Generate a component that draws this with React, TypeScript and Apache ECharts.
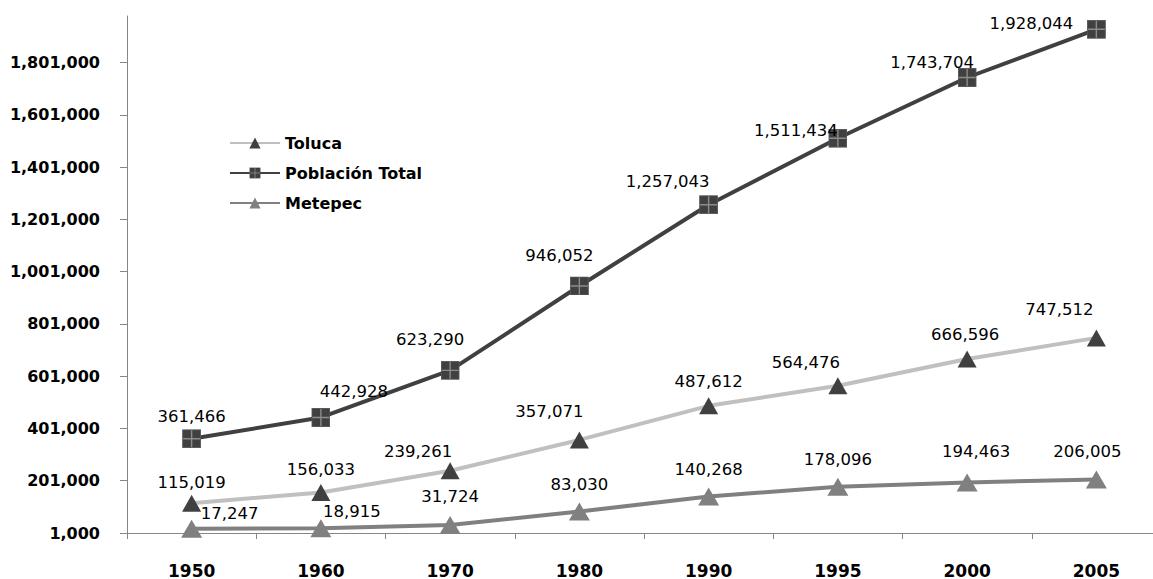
import React, { useEffect, useRef } from "react";
import * as echarts from "echarts";

const years = ["1950", "1960", "1970", "1980", "1990", "1995", "2000", "2005"];
const toluca = [115019, 156033, 239261, 357071, 487612, 564476, 666596, 747512];
const total = [361466, 442928, 623290, 946052, 1257043, 1511434, 1743704, 1928044];
const metepec = [17247, 18915, 31724, 83030, 140268, 178096, 194463, 206005];

// label placement offsets (style only)
const tolucaOffsets = [[0, -21], [0, -23], [-32, -19], [-30, -28], [0, -24], [-32, -23], [-2, -25], [-37, -28]];
const totalOffsets = [[0, -22], [33, -26], [-20, -31], [-20, -30], [-41, -23], [-42, -8], [-35, -15], [-65, -6]];
const metepecOffsets = [[38, -15], [31, -17], [0, -28], [0, -27], [0, -27], [0, -27], [9, -31], [-9, -28]];

const fmt = (v: number) => v.toLocaleString("en-US");

const squareSvg =
  '<svg xmlns="http://www.w3.org/2000/svg" width="19" height="19" viewBox="0 0 19 19">' +
  '<rect x="0.5" y="0.5" width="18" height="18" fill="#404040" stroke="#595959" stroke-width="1"/>' +
  '<line x1="9.5" y1="1" x2="9.5" y2="18" stroke="#8c8c8c" stroke-width="1.4"/>' +
  '<line x1="1" y1="9.5" x2="18" y2="9.5" stroke="#8c8c8c" stroke-width="1.4"/>' +
  "</svg>";
const squareSymbol = "image://data:image/svg+xml;charset=utf-8," + encodeURIComponent(squareSvg);

const labelStyle = {
  show: true,
  position: "inside",
  color: "#000",
  fontFamily: "DejaVu Sans",
  fontSize: 16.5,
  formatter: (p: any) => fmt(p.value),
};

function buildData(values: number[], offsets: number[][]) {
  return values.map((v, i) => ({ value: v, label: { offset: offsets[i] } }));
}

export default function App() {
  const ref = useRef<HTMLDivElement>(null);
  useEffect(() => {
    if (!ref.current) return;
    const chart = echarts.init(ref.current, null, { renderer: "svg" });
    chart.setOption({
      animation: false,
      backgroundColor: "#fff",
      grid: { left: 127, top: 16, bottom: 45, right: 0, containLabel: false },
      legend: {
        data: ["Toluca", "Población Total", "Metepec"],
        orient: "vertical",
        left: 224,
        top: 130,
        itemWidth: 50,
        itemHeight: 14,
        itemGap: 14,
        textStyle: { fontFamily: "DejaVu Sans", fontSize: 16, fontWeight: "bold", color: "#000" },
      },
      xAxis: {
        type: "category",
        data: years,
        boundaryGap: true,
        axisLine: { lineStyle: { color: "#868686", width: 1 } },
        axisTick: { show: true, alignWithLabel: false, length: 6, lineStyle: { color: "#868686" } },
        axisLabel: {
          margin: 29,
          color: "#000",
          fontFamily: "DejaVu Sans",
          fontSize: 17,
          fontWeight: "bold",
        },
        splitLine: { show: false },
      },
      yAxis: {
        type: "value",
        min: 1000,
        max: 1979000,
        interval: 200000,
        axisLine: { show: true, lineStyle: { color: "#868686", width: 1 } },
        axisTick: { show: true, length: 7, lineStyle: { color: "#868686" } },
        axisLabel: {
          margin: 27,
          color: "#000",
          fontFamily: "DejaVu Sans",
          fontSize: 16,
          fontWeight: "bold",
          showMaxLabel: false,
          formatter: (v: number) => fmt(v),
        },
        splitLine: { show: false },
      },
      series: [
        {
          name: "Metepec",
          type: "line",
          data: buildData(metepec, metepecOffsets),
          lineStyle: { color: "#808080", width: 4 },
          itemStyle: { color: "#808080" },
          symbol: "triangle",
          symbolSize: [21, 18],
          label: labelStyle,
          z: 2,
        },
        {
          name: "Toluca",
          type: "line",
          data: buildData(toluca, tolucaOffsets),
          lineStyle: { color: "#c0c0c0", width: 4 },
          itemStyle: { color: "#404040" },
          symbol: "triangle",
          symbolSize: [19, 17],
          label: labelStyle,
          z: 3,
        },
        {
          name: "Población Total",
          type: "line",
          data: buildData(total, totalOffsets),
          lineStyle: { color: "#404040", width: 4 },
          itemStyle: { color: "#404040" },
          symbol: squareSymbol,
          symbolSize: 19,
          label: labelStyle,
          z: 4,
        },
      ],
    });
    return () => chart.dispose();
  }, []);
  return (
    <div
      ref={ref}
      style={{ position: "fixed", left: 0, top: 0, width: 1161, height: 579, background: "#fff" }}
    />
  );
}
